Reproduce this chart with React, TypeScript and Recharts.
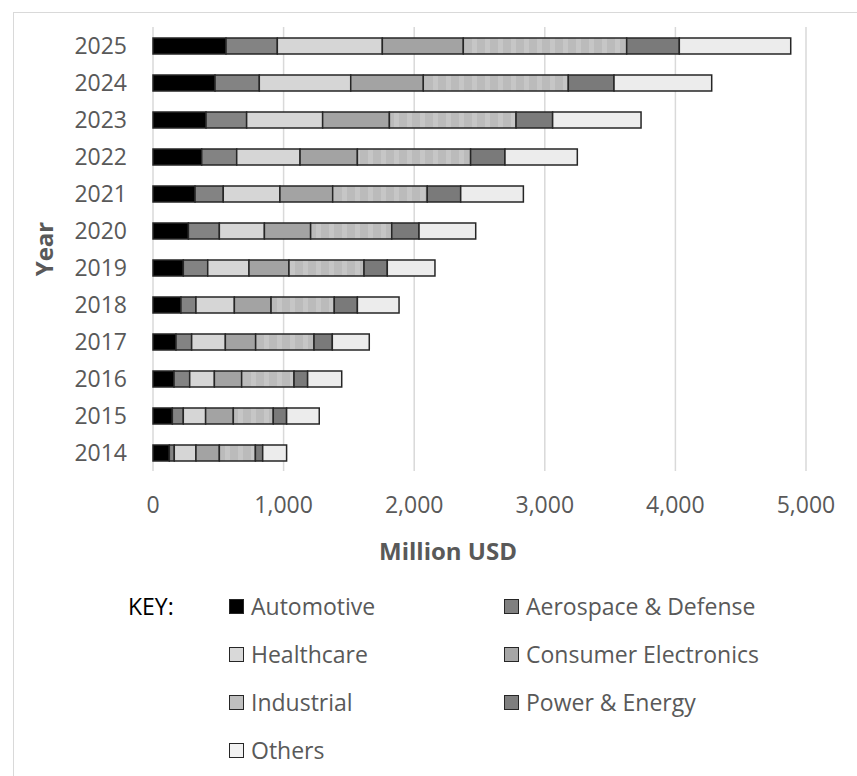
import { BarChart, Bar, XAxis, YAxis, CartesianGrid, Label } from "recharts";

// market size by end-use sector, million USD
const years = ["2014", "2015", "2016", "2017", "2018", "2019", "2020", "2021", "2022", "2023", "2024", "2025"];
const automotive = [125, 148, 161, 176, 214, 232, 271, 322, 373, 406, 475, 559];
const aerospace = [38, 84, 120, 120, 115, 187, 237, 216, 268, 311, 339, 393];
const healthcare = [166, 171, 189, 258, 294, 316, 345, 434, 485, 582, 700, 804];
const consumerElectronics = [179, 212, 209, 232, 281, 306, 354, 404, 439, 511, 556, 620];
const industrial = [276, 306, 401, 447, 484, 575, 621, 724, 867, 970, 1110, 1251];
const powerEnergy = [56, 102, 104, 140, 177, 178, 209, 256, 263, 280, 350, 403];
const others = [183, 250, 261, 283, 319, 365, 434, 480, 554, 677, 748, 853];
const xTicks = [0, 1000, 2000, 3000, 4000, 5000];

const FONT = "'Open Sans', sans-serif";
const TEXT = "#595959";
const EDGE = "#262626";

const series = [
  { key: "automotive", name: "Automotive", values: automotive, fill: "#000000", swatch: "#000000" },
  { key: "aerospace", name: "Aerospace & Defense", values: aerospace, fill: "#838383", swatch: "#808080" },
  { key: "healthcare", name: "Healthcare", values: healthcare, fill: "#d6d6d6", swatch: "#d9d9d9" },
  { key: "consumer", name: "Consumer Electronics", values: consumerElectronics, fill: "#a3a3a3", swatch: "#a6a6a6" },
  { key: "industrial", name: "Industrial", values: industrial, fill: "url(#industrialTex)", swatch: "#bfbfbf" },
  { key: "power", name: "Power & Energy", values: powerEnergy, fill: "#7a7a7a", swatch: "#7f7f7f" },
  { key: "others", name: "Others", values: others, fill: "#ececec", swatch: "#f2f2f2" },
];

const chartData = years.map((year, i) => {
  const row: Record<string, string | number> = { year };
  series.forEach((s) => {
    row[s.key] = s.values[i];
  });
  return row;
});

const YearTick = ({ x, y, payload }: any) => (
  <text x={x - 26} y={y + 8} textAnchor="end" fill={TEXT} fontSize={23} fontFamily={FONT}>
    {payload.value}
  </text>
);

const ValueTick = ({ x, y, payload }: any) => (
  <text x={x} y={y + 42} textAnchor="middle" fill={TEXT} fontSize={23} fontFamily={FONT}>
    {Number(payload.value).toLocaleString("en-US")}
  </text>
);

const YearTitle = ({ viewBox }: any) => {
  const cy = viewBox ? viewBox.y + viewBox.height / 2 : 249;
  return (
    <text
      x={43}
      y={cy}
      transform={`rotate(-90, 43, ${cy})`}
      textAnchor="middle"
      dominantBaseline="central"
      fill={TEXT}
      fontSize={24}
      fontWeight="bold"
      fontFamily={FONT}
    >
      Year
    </text>
  );
};

const ValueTitle = () => (
  <text x={448} y={560} textAnchor="middle" fill={TEXT} fontSize={24} fontWeight="bold" fontFamily={FONT}>
    Million USD
  </text>
);

const KeyBlock = () => {
  const rowCenters = [606, 654, 702, 750];
  const colSwatch = [229, 504];
  return (
    <>
      <div style={{ position: "absolute", left: 128, top: rowCenters[0] - 16, height: 32, lineHeight: "32px", fontSize: 23, color: "#000" }}>
        KEY:
      </div>
      {series.map((s, i) => {
        const col = i % 2;
        const row = Math.floor(i / 2);
        return (
          <div
            key={s.key}
            style={{
              position: "absolute",
              left: colSwatch[col],
              top: rowCenters[row] - 16,
              height: 32,
              display: "flex",
              alignItems: "center",
              gap: 7,
              fontSize: 23,
              color: TEXT,
              whiteSpace: "nowrap",
            }}
          >
            <span style={{ width: 13, height: 13, background: s.swatch, border: `1.5px solid ${EDGE}`, display: "inline-block" }} />
            <span>{s.name}</span>
          </div>
        );
      })}
    </>
  );
};

export default function App() {
  return (
    <div style={{ position: "absolute", left: 0, top: 0, width: 857, height: 776, overflow: "hidden", background: "#fff", fontFamily: FONT }}>
      <div style={{ position: "absolute", left: 13, top: 12, width: 900, height: 820, border: "1.5px solid #d9d9d9" }} />
      <div style={{ position: "absolute", left: 0, top: 0 }}>
        <BarChart width={857} height={600} data={chartData} layout="vertical" margin={{ top: 27, right: 51, bottom: 0, left: 0 }}>
          <defs>
            <pattern id="industrialTex" width={13} height={16} patternUnits="userSpaceOnUse">
              <rect width={13} height={16} fill="#bbbbbb" />
              <rect x={4} width={5} height={16} fill="#c6c6c6" />
            </pattern>
          </defs>
          <CartesianGrid horizontal={false} stroke="#d9d9d9" strokeWidth={1.5} />
          <XAxis
            type="number"
            domain={[0, 5000]}
            ticks={xTicks}
            height={129}
            axisLine={false}
            tickLine={false}
            tickSize={0}
            tickMargin={0}
            tick={<ValueTick />}
          >
            <Label content={<ValueTitle />} />
          </XAxis>
          <YAxis
            type="category"
            dataKey="year"
            reversed
            width={153}
            axisLine={false}
            tickLine={false}
            tickSize={0}
            tickMargin={0}
            tick={<YearTick />}
            interval={0}
          >
            <Label content={<YearTitle />} />
          </YAxis>
          {series.map((s) => (
            <Bar
              key={s.key}
              dataKey={s.key}
              name={s.name}
              stackId="total"
              fill={s.fill}
              stroke={EDGE}
              strokeWidth={1.5}
              barSize={16}
              isAnimationActive={false}
            />
          ))}
        </BarChart>
      </div>
      <KeyBlock />
    </div>
  );
}
